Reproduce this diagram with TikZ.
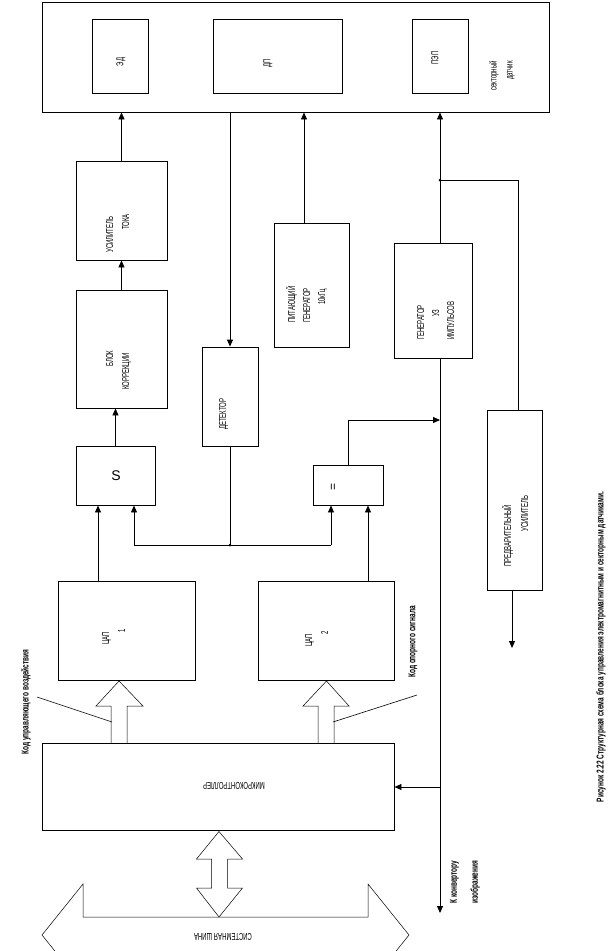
\documentclass[tikz,border=0pt]{standalone}
\usepackage{fontspec}
\setmainfont{Liberation Sans}
\newfontfamily\cond[FakeStretch=0.6]{Liberation Sans}
\newfontfamily\condb[FakeStretch=0.65]{Liberation Sans}
\usetikzlibrary{arrows.meta}
\begin{document}
\begin{tikzpicture}[x=1pt,y=-1pt,
  box/.style={draw, line width=0.9pt, inner sep=0pt},
  arr/.style={line width=0.9pt, -{Triangle[length=7pt,width=6pt]}},
  ln/.style={line width=0.9pt},
  fat/.style={draw, line width=0.5pt},
  lbl/.style={rotate=90, inner sep=0pt, anchor=north west, align=left,
    font=\cond\fontsize{10}{16}\selectfont},
  clbl/.style={rotate=90, inner sep=0pt, align=center,
    font=\cond\fontsize{10}{16}\selectfont},
  blbl/.style={rotate=90, inner sep=0pt, align=left,
    font=\condb\bfseries\fontsize{10}{21}\selectfont},
  dot/.style={fill, circle, inner sep=0pt, minimum size=3pt}
]
\useasboundingbox (0,0) rectangle (613,951);
\clip (0,0) rectangle (613,951);
\fill[white] (0,0) rectangle (613,951);

% boxes
\node[box, minimum width=507pt, minimum height=110pt] (top) at (295.5,57) {};
\node[box, minimum width=56pt, minimum height=74pt] (ed) at (120,56) {};
\node[box, minimum width=129pt, minimum height=74pt] (dp) at (277.5,56) {};
\node[box, minimum width=56pt, minimum height=74pt] (pep) at (440,56) {};
\node[box, minimum width=91pt, minimum height=99pt] (amp) at (121.5,210.5) {};
\node[box, minimum width=91pt, minimum height=118pt] (corr) at (121.5,349) {};
\node[box, minimum width=79pt, minimum height=59pt] (sum) at (115.5,475.5) {};
\node[box, minimum width=56pt, minimum height=99pt] (det) at (230,396.5) {};
\node[box, minimum width=75pt, minimum height=124pt] (pit) at (311.5,285) {};
\node[box, minimum width=78pt, minimum height=115pt] (gen) at (433,300.5) {};
\node[box, minimum width=55pt, minimum height=180pt] (pre) at (514.5,500) {};
\node[box, minimum width=70pt, minimum height=40pt] (cmp) at (348,485) {};
\node[box, minimum width=137pt, minimum height=99pt] (dac1) at (126.5,630.5) {};
\node[box, minimum width=136pt, minimum height=99pt] (dac2) at (326,630.5) {};
\node[box, minimum width=352pt, minimum height=87pt] (mc) at (218,786.5) {};

% labels
\node[clbl] (ted) at (121,62) {ЭД};
\node[clbl] (tdp) at (268,63) {ДП};
\node[clbl] (tpep) at (435,58) {ПЭП};
\node[rotate=90, inner sep=0pt, align=right, font=\cond\fontsize{10}{16}\selectfont] (tsec) at (502,76) {секторный\\датчик};
\node[lbl] (tamp) at (106,253) {УСИЛИТЕЛЬ\\\hspace*{23pt}ТОКА};
\node[lbl] (tcorr) at (106,390) {\hspace*{23pt}БЛОК\\КОРРЕКЦИИ};
\node[lbl] (tdet) at (219,430) {ДЕТЕКТОР};
\node[lbl, font=\cond\fontsize{10}{15}\selectfont] (tpit) at (286,323) {ПИТАЮЩИЙ\\ГЕНЕРАТОР\\\hspace*{18pt}10кГц};
\node[lbl, font=\cond\fontsize{10}{15}\selectfont] (tgen) at (417,340) {ГЕНЕРАТОР\\\hspace*{23pt}УЗ\\ИМПУЛЬСОВ};
\node[lbl, font=\cond\fontsize{10}{17}\selectfont] (tpre) at (502,567) {ПРЕДВАРИТЕЛЬНЫЙ\\\hspace*{35pt}УСИЛИТЕЛЬ};
\node[lbl] (tdac1) at (102,645) {ЦАП\\\hspace*{12pt}1};
\node[lbl] (tdac2) at (305,647) {ЦАП\\\hspace*{12pt}2};
\node[inner sep=0pt, font=\fontsize{14}{16}\selectfont] (tsum) at (116,476) {S};
\node[rotate=90, inner sep=0pt, font=\fontsize{12}{14}\selectfont] (tcmp) at (334,487) {=};
\node[rotate=180, inner sep=0pt, font=\cond\fontsize{10}{16}\selectfont] (tmc) at (234,786) {МИКРОКОНТРОЛЛЕР};
\node[rotate=180, inner sep=0pt, font=\cond\fontsize{10}{16}\selectfont] (tbus) at (223,937) {СИСТЕМНАЯ ШИНА};
\node[blbl] (tconv) at (465,882) {К конвертору\\изображения};
\node[blbl] (tcode1) at (26,702) {Код управляющего воздействия};
\node[blbl] (tcode2) at (413,642) {Код опорного сигнала};
\node[blbl] (tcap) at (601,647) {Рисунок 2.22 Структурная схема блока управления электромагнитным и секторным датчиками.};

% helper coordinates
\coordinate (c98) at (98,0);
\coordinate (c304) at (304,0);
\coordinate (c368) at (368,0);
\coordinate (c440) at (440,0);
\coordinate (c512) at (512,0);
\coordinate (jl) at (134,545);
\coordinate (jr) at (331,545);
\coordinate (jd) at (230,545);
\coordinate (cbend) at (348,420);
\coordinate (cjoin) at (440,420);
\coordinate (jg) at (440,180);
\coordinate (jp) at (518,180);
\coordinate (kend) at (440,913);
\coordinate (mcj) at (440,787);
\coordinate (preout) at (512,648);

% connectors
\draw[arr] (amp.north) -- (amp.north |- top.south);
\draw[arr] (corr.north) -- (amp.south);
\draw[arr] (sum.north) -- (sum.north |- corr.south);
\draw[arr] (dac1.north -| c98) -- (sum.south -| c98);
\draw[arr] (jl) -- (sum.south -| jl);
\draw[ln] (jl) -- (jr);
\draw[arr] (jr) -- (cmp.south -| jr);
\draw[arr] (dac2.north -| c368) -- (cmp.south -| c368);
\draw[ln] (det.south) -- (jd);
\node[dot] (djd) at (jd) {};
\draw[arr] (cmp.north) -- (cbend) -- (cjoin);
\draw[arr] (top.south -| det.north) -- (det.north);
\draw[arr] (pit.north -| c304) -- (top.south -| c304);
\draw[arr] (gen.north -| c440) -- (top.south -| c440);
\draw[ln] (jg) -- (jp) -- (pre.north -| jp);
\node[dot] (djg) at (jg) {};
\draw[arr] (gen.south -| c440) -- (kend);
\draw[arr] (mcj) -- (mc.east |- mcj);
\draw[arr] (pre.south -| c512) -- (preout);

% fat arrows
\draw[fat] (111,743) -- (111,706) -- (96,706) -- (119,681) -- (143,706) -- (127,706) -- (127,743);
\draw[fat] (318,743) -- (318,706) -- (303,706) -- (326.5,681) -- (349,706) -- (334,706) -- (334,743);
\draw[fat] (219,831.5) -- (242.5,859) -- (227.5,859) -- (227.5,888) -- (242.5,888) -- (219,917)
  -- (196.5,888) -- (211.5,888) -- (211.5,859) -- (196.5,859) -- cycle;
\draw[fat] (42,935) -- (83,884) -- (83,917) -- (368,917) -- (368,884) -- (409,935)
  -- (368,986) -- (368,953) -- (83,953) -- (83,986) -- cycle;

% leader lines
\draw[line width=0.6pt] (37,697) -- (112,722);
\draw[line width=0.6pt] (417,695) -- (333,722);
\end{tikzpicture}
\end{document}
